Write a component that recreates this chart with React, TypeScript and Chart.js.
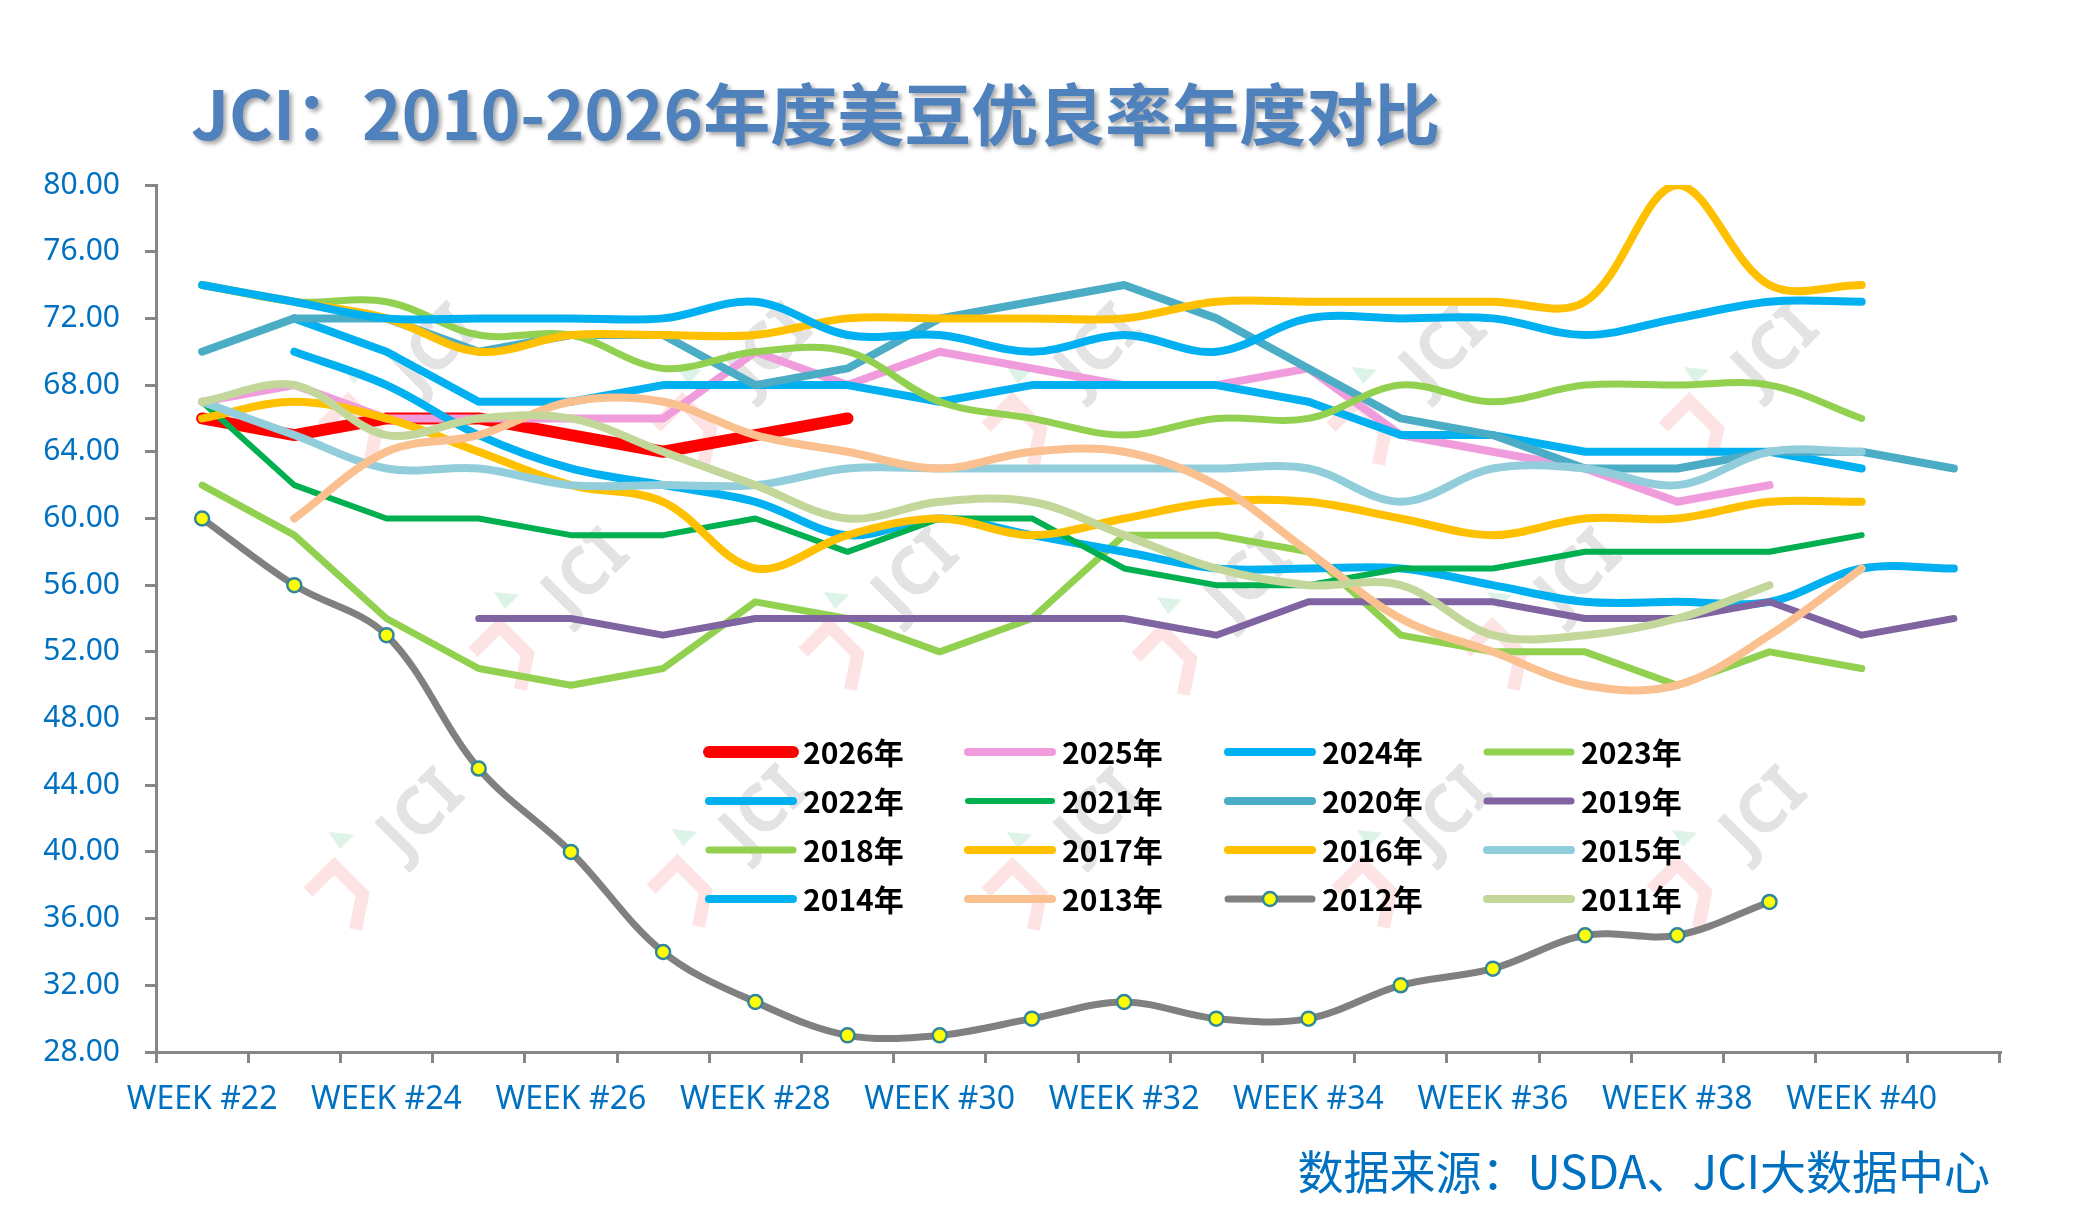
import React, { useEffect, useRef } from 'react';
import { Chart, registerables } from 'chart.js';

Chart.register(...registerables);

// ---------- data ----------
const CATEGORIES = [
  'WEEK #22', 'WEEK #23', 'WEEK #24', 'WEEK #25', 'WEEK #26', 'WEEK #27', 'WEEK #28',
  'WEEK #29', 'WEEK #30', 'WEEK #31', 'WEEK #32', 'WEEK #33', 'WEEK #34', 'WEEK #35',
  'WEEK #36', 'WEEK #37', 'WEEK #38', 'WEEK #39', 'WEEK #40', 'WEEK #41',
];

const Y_MIN = 28;
const Y_MAX = 80;
const Y_STEP = 4;

const s2026 = [66, 65, 66, 66, 65, 64, 65, 66, null, null, null, null, null, null, null, null, null, null, null, null];
const s2025 = [67, 68, 66, 66, 66, 66, 70, 68, 70, 69, 68, 68, 69, 65, 64, 63, 61, 62, null, null];
const s2024 = [null, 72, 70, 67, 67, 68, 68, 68, 67, 68, 68, 68, 67, 65, 65, 64, 64, 64, 63, null];
const s2023 = [62, 59, 54, 51, 50, 51, 55, 54, 52, 54, 59, 59, 58, 53, 52, 52, 50, 52, 51, null];
const s2022 = [null, 70, 68, 65, 63, 62, 61, 59, 60, 59, 58, 57, 57, 57, 56, 55, 55, 55, 57, 57];
const s2021 = [67, 62, 60, 60, 59, 59, 60, 58, 60, 60, 57, 56, 56, 57, 57, 58, 58, 58, 59, null];
const s2020 = [70, 72, 72, 70, 71, 71, 68, 69, 72, 73, 74, 72, 69, 66, 65, 63, 63, 64, 64, 63];
const s2019 = [null, null, null, 54, 54, 53, 54, 54, 54, 54, 54, 53, 55, 55, 55, 54, 54, 55, 53, 54];
const s2018 = [74, 73, 73, 71, 71, 69, 70, 70, 67, 66, 65, 66, 66, 68, 67, 68, 68, 68, 66, null];
const s2017 = [66, 67, 66, 64, 62, 61, 57, 59, 60, 59, 60, 61, 61, 60, 59, 60, 60, 61, 61, null];
const s2016 = [74, 73, 72, 70, 71, 71, 71, 72, 72, 72, 72, 73, 73, 73, 73, 73, 80, 74, 74, null];
const s2015 = [67, 65, 63, 63, 62, 62, 62, 63, 63, 63, 63, 63, 63, 61, 63, 63, 62, 64, 64, null];
const s2014 = [74, 73, 72, 72, 72, 72, 73, 71, 71, 70, 71, 70, 72, 72, 72, 71, 72, 73, 73, null];
const s2013 = [null, 60, 64, 65, 67, 67, 65, 64, 63, 64, 64, 62, 58, 54, 52, 50, 50, 53, 57, null];
const s2012 = [60, 56, 53, 45, 40, 34, 31, 29, 29, 30, 31, 30, 30, 32, 33, 35, 35, 37, null, null];
const s2011 = [67, 68, 65, 66, 66, 64, 62, 60, 61, 61, 59, 57, 56, 56, 53, 53, 54, 56, null, null];

const TITLE = 'JCI：2010-2026年度美豆优良率年度对比';
const SOURCE = '数据来源：USDA、JCI大数据中心';

// ---------- series table (styles) ----------
type Series = { label: string; data: (number | null)[]; color: string; width: number; smooth: boolean; marker?: boolean };
const SERIES: Series[] = [
  { label: '2026年', data: s2026, color: '#FF0000', width: 12, smooth: false },
  { label: '2025年', data: s2025, color: '#F09CDC', width: 8, smooth: false },
  { label: '2024年', data: s2024, color: '#00B0F0', width: 8, smooth: false },
  { label: '2023年', data: s2023, color: '#92D050', width: 7, smooth: false },
  { label: '2022年', data: s2022, color: '#00B0F0', width: 8, smooth: true },
  { label: '2021年', data: s2021, color: '#00B050', width: 6, smooth: false },
  { label: '2020年', data: s2020, color: '#4BACC6', width: 8, smooth: false },
  { label: '2019年', data: s2019, color: '#8064A2', width: 7, smooth: false },
  { label: '2018年', data: s2018, color: '#92D050', width: 7, smooth: true },
  { label: '2017年', data: s2017, color: '#FFC000', width: 8, smooth: true },
  { label: '2016年', data: s2016, color: '#FFC000', width: 8, smooth: true },
  { label: '2015年', data: s2015, color: '#92CDDC', width: 8, smooth: true },
  { label: '2014年', data: s2014, color: '#00B0F0', width: 8, smooth: true },
  { label: '2013年', data: s2013, color: '#FAC090', width: 8, smooth: true },
  { label: '2012年', data: s2012, color: '#808080', width: 7, smooth: true, marker: true },
  { label: '2011年', data: s2011, color: '#C4D79B', width: 8, smooth: true },
];

// ---------- layout constants ----------
const W = 2084;
const H = 1215;
const PLOT_LEFT = 156;
const PLOT_TOP = 185;
const PLOT_RIGHT = 2000;
const PLOT_BOTTOM = 1052;
const AXIS_COLOR = '#868686';
const LABEL_BLUE = '#0070C0';
const FONT = "'Noto Sans', 'Noto Sans CJK SC', sans-serif";
const CJK_FONT = "'Noto Sans CJK SC', 'Noto Sans', sans-serif";

const LEGEND_COL_X = [803, 1062, 1322, 1581];
const LEGEND_ROW_Y = [752, 801, 850, 899];

const WATERMARKS = [
  [436, 350], [770, 350], [1100, 350], [1445, 350], [1777, 350],
  [587, 575], [917, 575], [1250, 580], [1580, 575],
  [422, 815], [765, 812], [1100, 815], [1450, 813], [1765, 813],
];

const decorPlugin = {
  id: 'decor',
  beforeDatasetsDraw(chart: any) {
    const ctx = chart.ctx as CanvasRenderingContext2D;
    ctx.save();
    for (const [cx, cy] of WATERMARKS) {
      ctx.save();
      ctx.translate(cx, cy);
      ctx.rotate(-Math.PI / 4);
      // pink hook
      ctx.strokeStyle = 'rgba(252, 200, 200, 0.5)';
      ctx.lineWidth = 13;
      ctx.lineJoin = 'miter';
      ctx.beginPath();
      ctx.moveTo(-135, -26);
      ctx.lineTo(-98, -26);
      ctx.lineTo(-98, 14);
      ctx.lineTo(-128, 34);
      ctx.stroke();
      // small green triangle
      ctx.fillStyle = 'rgba(200, 235, 215, 0.6)';
      ctx.beginPath();
      ctx.moveTo(-78, -54);
      ctx.lineTo(-62, -34);
      ctx.lineTo(-82, -34);
      ctx.closePath();
      ctx.fill();
      // JCI text
      ctx.fillStyle = 'rgba(200, 200, 200, 0.5)';
      ctx.font = `bold 66px ${FONT}`;
      ctx.textAlign = 'center';
      ctx.textBaseline = 'middle';
      ctx.fillText('JCI', 0, 0);
      ctx.restore();
    }
    ctx.restore();
  },
  afterDraw(chart: any) {
    const ctx = chart.ctx as CanvasRenderingContext2D;
    ctx.save();
    // title
    ctx.font = `bold 67px ${CJK_FONT}`;
    ctx.textAlign = 'left';
    ctx.textBaseline = 'alphabetic';
    ctx.shadowColor = 'rgba(0,0,0,0.35)';
    ctx.shadowOffsetX = 3;
    ctx.shadowOffsetY = 3;
    ctx.shadowBlur = 4;
    ctx.fillStyle = '#4F81BD';
    ctx.fillText(TITLE, 191, 140);
    ctx.shadowColor = 'transparent';
    ctx.shadowBlur = 0;
    ctx.shadowOffsetX = 0;
    ctx.shadowOffsetY = 0;

    // source
    ctx.font = `46px ${CJK_FONT}`;
    ctx.fillStyle = LABEL_BLUE;
    ctx.textAlign = 'right';
    ctx.textBaseline = 'middle';
    ctx.fillText(SOURCE, 1990, 1172);

    // legend
    const ds = chart.data.datasets;
    ctx.textAlign = 'left';
    ctx.textBaseline = 'middle';
    ctx.font = `bold 30px ${CJK_FONT}`;
    ds.forEach((d: any, i: number) => {
      const col = i % 4;
      const row = Math.floor(i / 4);
      const tx = LEGEND_COL_X[col];
      const ty = LEGEND_ROW_Y[row];
      ctx.strokeStyle = d.borderColor;
      ctx.lineWidth = d.borderWidth;
      ctx.lineCap = 'round';
      ctx.beginPath();
      ctx.moveTo(tx - 94, ty);
      ctx.lineTo(tx - 10, ty);
      ctx.stroke();
      if (d.pointRadius > 0) {
        ctx.beginPath();
        ctx.arc(tx - 52, ty, d.pointRadius, 0, Math.PI * 2);
        ctx.fillStyle = d.pointBackgroundColor;
        ctx.fill();
        ctx.lineWidth = d.pointBorderWidth;
        ctx.strokeStyle = d.pointBorderColor;
        ctx.stroke();
      }
      ctx.fillStyle = '#000000';
      ctx.fillText(d.label, tx, ty + 1);
    });
    ctx.restore();
  },
};

export default function App() {
  const ref = useRef<HTMLCanvasElement | null>(null);

  useEffect(() => {
    if (!ref.current) return;
    const n = SERIES.length;
    const chart = new Chart(ref.current, {
      type: 'line',
      data: {
        labels: CATEGORIES,
        datasets: SERIES.map((s, i) => ({
          label: s.label,
          data: s.data,
          borderColor: s.color,
          backgroundColor: s.color,
          borderWidth: s.width,
          tension: s.smooth ? 0.35 : 0,
          cubicInterpolationMode: 'default' as const,
          borderCapStyle: 'round' as const,
          borderJoinStyle: 'round' as const,
          pointRadius: s.marker ? 7 : 0,
          pointHoverRadius: s.marker ? 7 : 0,
          pointBackgroundColor: '#FFFF00',
          pointBorderColor: '#31859C',
          pointBorderWidth: 2.5,
          fill: false,
          spanGaps: false,
          order: n - 1 - i,
        })),
      },
      options: {
        responsive: false,
        animation: false,
        devicePixelRatio: 1,
        layout: { padding: { left: 0, top: PLOT_TOP, right: W - PLOT_RIGHT, bottom: 0 } },
        plugins: {
          legend: { display: false },
          tooltip: { enabled: false },
          title: { display: false },
        },
        scales: {
          x: {
            type: 'category',
            offset: true,
            grid: {
              offset: true,
              drawOnChartArea: false,
              drawTicks: true,
              tickLength: 11,
              color: AXIS_COLOR,
              lineWidth: 3,
            },
            border: { color: AXIS_COLOR, width: 3 },
            ticks: {
              autoSkip: false,
              maxRotation: 0,
              minRotation: 0,
              padding: 18,
              color: LABEL_BLUE,
              font: { family: FONT, size: 32 },
              callback: (_v: any, i: number) => (i % 2 === 0 ? CATEGORIES[i] : ''),
            },
            afterFit: (s: any) => {
              s.height = H - PLOT_BOTTOM;
            },
          },
          y: {
            min: Y_MIN,
            max: Y_MAX,
            grid: {
              drawOnChartArea: false,
              drawTicks: true,
              tickLength: 11,
              color: AXIS_COLOR,
              lineWidth: 3,
            },
            border: { color: AXIS_COLOR, width: 3 },
            ticks: {
              stepSize: Y_STEP,
              padding: 25,
              color: LABEL_BLUE,
              font: { family: FONT, size: 30 },
              callback: (v: any) => Number(v).toFixed(2),
            },
            afterFit: (s: any) => {
              s.width = PLOT_LEFT;
            },
          },
        },
      },
      plugins: [decorPlugin],
    } as any);
    return () => chart.destroy();
  }, []);

  return (
    <div style={{ position: 'fixed', left: 0, top: 0, width: W, height: H, background: '#FFFFFF' }}>
      <canvas ref={ref} width={W} height={H} style={{ width: W, height: H, display: 'block' }} />
    </div>
  );
}
